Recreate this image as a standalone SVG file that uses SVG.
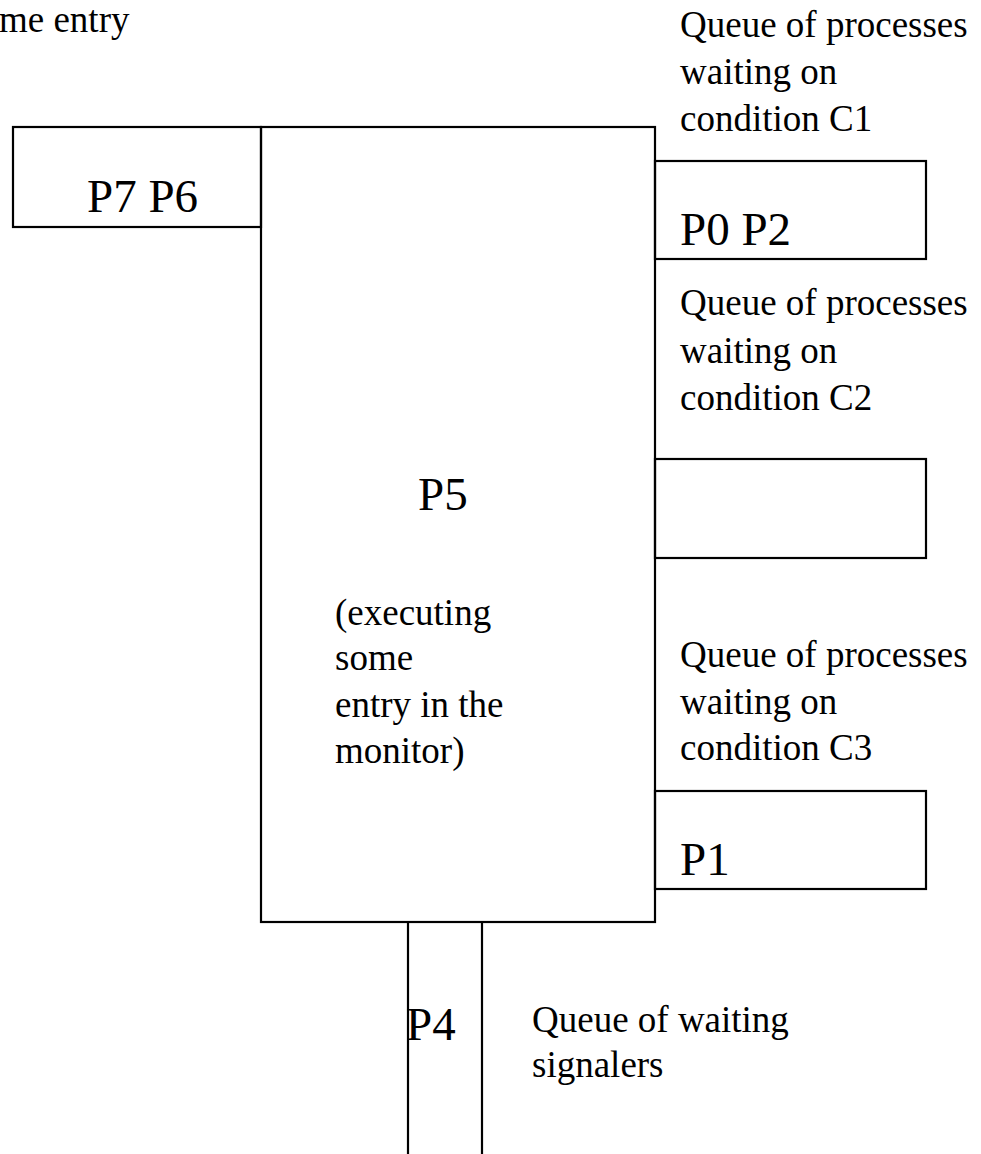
<svg xmlns="http://www.w3.org/2000/svg" width="981" height="1154" viewBox="0 0 981 1154">
<style>
  .box { fill: none; stroke: #000; stroke-width: 2.2; }
  .ln { stroke: #000; stroke-width: 2.2; fill: none; }
  .lbl { font-family: "Liberation Serif", "Times New Roman", serif; font-size: 37px; fill: #000; }
  .pid { font-family: "Liberation Serif", "Times New Roman", serif; font-size: 47px; fill: #000; }
</style>
<rect width="981" height="1154" fill="#fff"/>

<g id="entry-note">
  <text class="lbl" x="-1" y="32">me entry</text>
</g>

<g id="entry-queue">
  <rect class="box" x="13" y="127" width="248" height="100"/>
  <text class="pid" x="87" y="212">P7 P6</text>
</g>

<g id="monitor">
  <rect class="box" x="261" y="127" width="394" height="795"/>
  <text class="pid" x="418" y="510">P5</text>
  <text class="lbl" x="335" y="625">(executing</text>
  <text class="lbl" x="335" y="670">some</text>
  <text class="lbl" x="335" y="717">entry in the</text>
  <text class="lbl" x="335" y="763">monitor)</text>
</g>

<g id="queue-c1">
  <text class="lbl" x="680" y="37">Queue of processes</text>
  <text class="lbl" x="680" y="84">waiting on</text>
  <text class="lbl" x="680" y="131">condition C1</text>
  <rect class="box" x="655" y="161" width="271" height="98"/>
  <text class="pid" x="680" y="245">P0 P2</text>
</g>

<g id="queue-c2">
  <text class="lbl" x="680" y="315">Queue of processes</text>
  <text class="lbl" x="680" y="363">waiting on</text>
  <text class="lbl" x="680" y="410">condition C2</text>
  <rect class="box" x="655" y="459" width="271" height="99"/>
</g>

<g id="queue-c3">
  <text class="lbl" x="680" y="667">Queue of processes</text>
  <text class="lbl" x="680" y="714">waiting on</text>
  <text class="lbl" x="680" y="760">condition C3</text>
  <rect class="box" x="655" y="791" width="271" height="98"/>
  <text class="pid" x="680" y="875">P1</text>
</g>

<g id="signalers-queue">
  <text class="pid" x="406" y="1040">P4</text>
  <text class="lbl" x="532" y="1032">Queue of waiting</text>
  <text class="lbl" x="532" y="1077">signalers</text>
</g>

<g id="connectors">
  <line class="ln" x1="408" y1="922" x2="408" y2="1154"/>
  <line class="ln" x1="482" y1="922" x2="482" y2="1154"/>
</g>
</svg>
